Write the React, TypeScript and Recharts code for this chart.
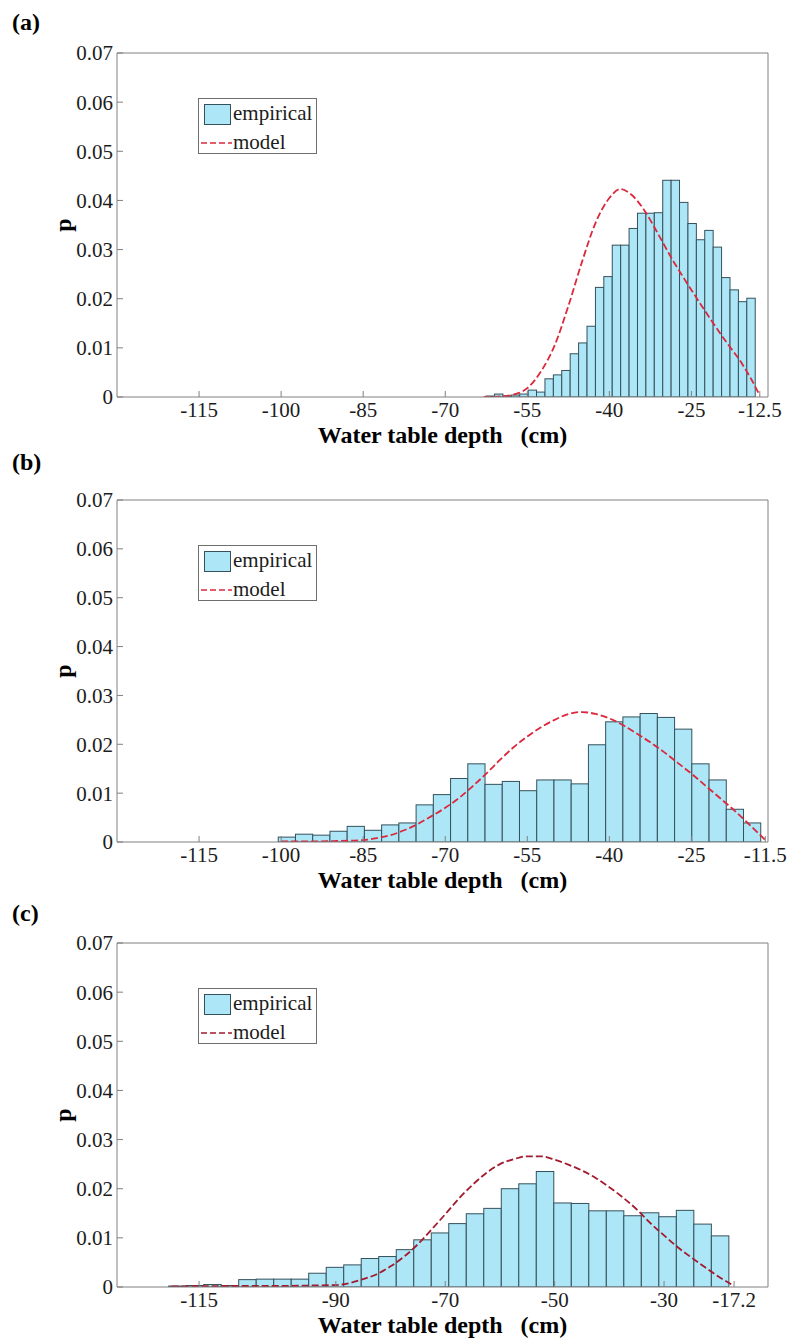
import React from 'react';
import { ComposedChart, Bar, Line, XAxis, YAxis, Legend } from 'recharts';

// ---------- shared axis values ----------
const X_DOMAIN: [number, number] = [-130, -11];
const Y_DOMAIN: [number, number] = [0, 0.07];
const yMajorTicks = [0, 0.01, 0.02, 0.03, 0.04, 0.05, 0.06, 0.07];
const yMinorTicks = [0.005, 0.015, 0.025, 0.035, 0.045, 0.055, 0.065];
const yAllTicks = [0, 0.005, 0.01, 0.015, 0.02, 0.025, 0.03, 0.035, 0.04, 0.045, 0.05, 0.055, 0.06, 0.065, 0.07];

// ---------- panel (a) ----------
const xTicksA = [-115, -100, -85, -70, -55, -40, -25, -12.5];
const binWidthA = 1.5375;
const binCentersA = [
  -61.73, -60.19, -58.66, -57.12, -55.58, -54.04, -52.51, -50.97, -49.43, -47.9, -46.36,
  -44.82, -43.28, -41.74, -40.21, -38.67, -37.13, -35.59, -34.06, -32.52, -30.98, -29.44,
  -27.91, -26.37, -24.83, -23.29, -21.76, -20.22, -18.68, -17.14, -15.61, -14.07,
];
const empiricalA = [
  0.0002, 0.0006, 0.0002, 0.0004, 0.0006, 0.0014, 0.001, 0.0037, 0.0045, 0.0054, 0.0088,
  0.011, 0.0144, 0.0223, 0.0245, 0.0309, 0.0309, 0.0343, 0.0374, 0.0374, 0.0375, 0.0441,
  0.0441, 0.0396, 0.0353, 0.032, 0.0339, 0.0305, 0.0243, 0.0218, 0.0194, 0.0201,
];
const modelDepthA = [-63, -60, -57.5, -55, -52.5, -50, -47.5, -45, -42.5, -40, -38, -36, -33.5, -31, -28.5, -26, -23.5, -21, -18.5, -16, -14, -12.5];
const modelA = [0, 0.0001, 0.0005, 0.0018, 0.0052, 0.0105, 0.0185, 0.0275, 0.0355, 0.0405, 0.0423, 0.0412, 0.0378, 0.033, 0.028, 0.0235, 0.0192, 0.015, 0.011, 0.0072, 0.0035, 0.0003];

// ---------- panel (b) ----------
const xTicksB = [-115, -100, -85, -70, -55, -40, -25, -11.5];
const binWidthB = 3.15;
const binCentersB = [
  -98.93, -95.78, -92.63, -89.48, -86.33, -83.18, -80.03, -76.88, -73.73, -70.58, -67.43,
  -64.28, -61.13, -57.98, -54.83, -51.68, -48.53, -45.38, -42.23, -39.08, -35.93, -32.78,
  -29.63, -26.48, -23.33, -20.18, -17.03, -13.88,
];
const empiricalB = [
  0.001, 0.0016, 0.0014, 0.0022, 0.0032, 0.0024, 0.0035, 0.0039, 0.0076, 0.0097, 0.013,
  0.016, 0.0118, 0.0124, 0.0105, 0.0127, 0.0127, 0.0119, 0.0199, 0.0246, 0.0256, 0.0263,
  0.0255, 0.0231, 0.016, 0.0127, 0.0067, 0.0039,
];
const modelDepthB = [-100, -95, -90, -85, -82.5, -80, -77.5, -75, -72.5, -70, -67.5, -65, -62.5, -60, -57.5, -55, -52.5, -50, -47.5, -45, -42.5, -40, -37.5, -35, -32.5, -30, -27.5, -25, -22.5, -20, -17.5, -15, -12.5, -11.5];
const modelB = [0.0001, 0.0001, 0.0002, 0.0004, 0.0008, 0.0014, 0.0024, 0.0037, 0.0053, 0.007, 0.009, 0.0114, 0.014, 0.0168, 0.0194, 0.0216, 0.0235, 0.025, 0.0262, 0.0266, 0.0262, 0.0253, 0.0239, 0.0222, 0.0204, 0.0184, 0.0162, 0.014, 0.0116, 0.0092, 0.0068, 0.0042, 0.0015, 0.0004];

// ---------- panel (c) ----------
const xTicksC = [-115, -90, -70, -50, -30, -17.2];
const binWidthC = 3.2;
const binCentersC = [
  -119.0, -115.8, -112.6, -109.4, -106.2, -103.0, -99.8, -96.6, -93.4, -90.2, -87.0,
  -83.8, -80.6, -77.4, -74.2, -71.0, -67.8, -64.6, -61.4, -58.2, -55.0, -51.8,
  -48.6, -45.4, -42.2, -39.0, -35.8, -32.6, -29.4, -26.2, -23.0, -19.8,
];
const empiricalC = [
  0.0002, 0.0003, 0.0005, 0.0003, 0.0015, 0.0016, 0.0016, 0.0016, 0.0028, 0.004, 0.0045,
  0.0058, 0.0062, 0.0076, 0.0096, 0.011, 0.0129, 0.0149, 0.016, 0.02, 0.021, 0.0235,
  0.0171, 0.017, 0.0155, 0.0155, 0.0145, 0.0151, 0.0143, 0.0156, 0.0128, 0.0104,
];
const modelDepthC = [-120, -110, -100, -95, -90, -87.5, -85, -82.5, -80, -77.5, -75, -72.5, -70, -67.5, -65, -62.5, -60, -57.5, -55, -52.5, -50, -47.5, -45, -42.5, -40, -37.5, -35, -32.5, -30, -27.5, -25, -22.5, -20, -17.5];
const modelC = [0.0001, 0.0002, 0.0002, 0.0003, 0.0004, 0.0008, 0.0016, 0.0026, 0.0042, 0.0062, 0.0087, 0.0117, 0.0148, 0.018, 0.0208, 0.0232, 0.025, 0.026, 0.0266, 0.0266, 0.0259, 0.0249, 0.0237, 0.0222, 0.0203, 0.0182, 0.0158, 0.013, 0.0105, 0.0081, 0.006, 0.004, 0.0021, 0.0004];

// ---------- styling / layout ----------
const FONT = '"Liberation Serif", "Times New Roman", serif';
const BAR_FILL = '#ade6f7';
const BAR_STROKE = '#35515b';
const AXIS_COLOR = '#808080';
const TEXT_COLOR = '#1c1c1c';
const CHART_W = 787;
const PLOT_LEFT = 117;
const PLOT_RIGHT = 768;
const MARGIN_TOP = 53;
const AXIS_H = 30;
const PX_PER_UNIT = (PLOT_RIGHT - PLOT_LEFT) / (X_DOMAIN[1] - X_DOMAIN[0]);

const fmtY = (v: number) => (v === 0 ? '0' : v.toFixed(2));

const makeBarShape = (widthPx: number) => (props: any) => {
  const { x, y, width, height } = props;
  if (![x, y, width, height].every((n) => typeof n === 'number' && isFinite(n))) return <g />;
  const center = x + width / 2;
  return (
    <rect
      x={center - widthPx / 2}
      y={y}
      width={widthPx}
      height={Math.max(height, 0)}
      fill={BAR_FILL}
      stroke={BAR_STROKE}
      strokeWidth={1}
    />
  );
};

const LegendBox = ({ payload, lineColor }: any) => {
  const items = payload || [];
  const emp = items.find((e: any) => e.dataKey === 'p');
  const mod = items.find((e: any) => e.dataKey === 'm');
  return (
    <div
      style={{
        width: 119,
        height: 56,
        boxSizing: 'border-box',
        border: '1px solid #6f6f6f',
        background: '#fff',
        position: 'relative',
        fontFamily: FONT,
        fontSize: 21,
        color: TEXT_COLOR,
      }}
    >
      <div
        style={{
          position: 'absolute',
          left: 5,
          top: 5,
          width: 27,
          height: 21,
          boxSizing: 'border-box',
          background: BAR_FILL,
          border: `1.5px solid ${BAR_STROKE}`,
        }}
      />
      <div style={{ position: 'absolute', left: 34, top: 2, lineHeight: '24px', whiteSpace: 'nowrap' }}>
        {emp ? emp.value : 'empirical'}
      </div>
      <svg style={{ position: 'absolute', left: 2, top: 41 }} width={31} height={6}>
        <line x1={0} y1={3} x2={31} y2={3} stroke={lineColor} strokeWidth={1.5} strokeDasharray="6 3" />
      </svg>
      <div style={{ position: 'absolute', left: 34, top: 31, lineHeight: '24px', whiteSpace: 'nowrap' }}>
        {mod ? mod.value : 'model'}
      </div>
    </div>
  );
};

type PanelProps = {
  label: string;
  top: number;
  plotH: number;
  labelY: number;
  binCenters: number[];
  empirical: number[];
  binWidth: number;
  modelDepth: number[];
  model: number[];
  xTicks: number[];
  lineColor: string;
};

function Panel(p: PanelProps) {
  const histData = p.binCenters.map((x, i) => ({ x, p: p.empirical[i] }));
  const modelData = p.modelDepth.map((x, i) => ({ x, m: p.model[i] }));
  const chartH = MARGIN_TOP + p.plotH + AXIS_H;
  const barPx = p.binWidth * PX_PER_UNIT;
  const tickStyle = { fontSize: 21, fontFamily: FONT, fill: TEXT_COLOR };
  return (
    <div style={{ position: 'absolute', left: 0, top: p.top, width: CHART_W, height: chartH + 24 }}>
      <div
        style={{
          position: 'absolute',
          left: 12,
          top: p.labelY - 14,
          fontFamily: FONT,
          fontWeight: 'bold',
          fontSize: 24,
          lineHeight: '28px',
          color: '#000',
        }}
      >
        {p.label}
      </div>
      <div
        style={{
          position: 'absolute',
          left: 50,
          top: MARGIN_TOP + p.plotH / 2 - 15,
          width: 26,
          height: 30,
          display: 'flex',
          alignItems: 'center',
          justifyContent: 'center',
          transform: 'rotate(-90deg)',
          fontFamily: FONT,
          fontWeight: 'bold',
          fontSize: 24,
          color: '#000',
        }}
      >
        p
      </div>
      <div
        style={{
          position: 'absolute',
          left: PLOT_LEFT,
          width: PLOT_RIGHT - PLOT_LEFT,
          top: MARGIN_TOP + p.plotH + 26,
          textAlign: 'center',
          fontFamily: FONT,
          fontWeight: 'bold',
          fontSize: 24,
          lineHeight: '24px',
          whiteSpace: 'pre',
          color: '#000',
        }}
      >
        {'Water table depth   (cm)'}
      </div>
      <ComposedChart
        width={CHART_W}
        height={chartH}
        data={histData}
        margin={{ top: MARGIN_TOP, right: CHART_W - PLOT_RIGHT, bottom: 0, left: 0 }}
        barCategoryGap={0}
        barGap={0}
      >
        {/* labelled bottom axis */}
        <XAxis
          xAxisId="main"
          dataKey="x"
          type="number"
          domain={X_DOMAIN}
          allowDataOverflow
          ticks={p.xTicks}
          interval={0}
          height={AXIS_H}
          tick={tickStyle}
          tickSize={-6}
          tickMargin={11}
          tickLine={{ stroke: AXIS_COLOR }}
          axisLine={{ stroke: AXIS_COLOR }}
        />
        {/* hidden axis that positions the histogram bars */}
        <XAxis xAxisId="bars" dataKey="x" type="number" domain={X_DOMAIN} allowDataOverflow hide height={0} />
        {/* top box edge with inward ticks */}
        <XAxis
          xAxisId="top"
          orientation="top"
          mirror
          type="number"
          dataKey="x"
          domain={X_DOMAIN}
          allowDataOverflow
          ticks={p.xTicks}
          interval={0}
          height={1}
          tick={false}
          tickSize={6}
          tickLine={{ stroke: AXIS_COLOR }}
          axisLine={{ stroke: AXIS_COLOR }}
        />
        {/* labelled left axis */}
        <YAxis
          yAxisId={0}
          type="number"
          domain={Y_DOMAIN}
          allowDataOverflow
          ticks={yMajorTicks}
          interval={0}
          width={PLOT_LEFT}
          tick={tickStyle}
          tickFormatter={fmtY}
          tickSize={-6}
          tickMargin={10}
          tickLine={{ stroke: AXIS_COLOR }}
          axisLine={{ stroke: AXIS_COLOR }}
        />
        {/* left minor ticks */}
        <YAxis
          yAxisId="leftMinor"
          orientation="left"
          mirror
          type="number"
          domain={Y_DOMAIN}
          allowDataOverflow
          ticks={yMinorTicks}
          interval={0}
          width={1}
          tick={false}
          tickSize={3}
          tickLine={{ stroke: AXIS_COLOR }}
          axisLine={false}
        />
        {/* right box edge with inward ticks */}
        <YAxis
          yAxisId="right"
          orientation="right"
          mirror
          type="number"
          domain={Y_DOMAIN}
          allowDataOverflow
          ticks={yAllTicks}
          interval={0}
          width={1}
          tick={false}
          tickSize={5}
          tickLine={{ stroke: AXIS_COLOR }}
          axisLine={{ stroke: AXIS_COLOR }}
        />
        <Bar
          xAxisId="bars"
          yAxisId={0}
          dataKey="p"
          name="empirical"
          shape={makeBarShape(barPx)}
          fill={BAR_FILL}
          stroke={BAR_STROKE}
          isAnimationActive={false}
        />
        <Line
          xAxisId="main"
          yAxisId={0}
          data={modelData}
          dataKey="m"
          name="model"
          type="monotone"
          stroke={p.lineColor}
          strokeWidth={1.8}
          strokeDasharray="7 3"
          dot={false}
          activeDot={false}
          isAnimationActive={false}
        />
        <Legend
          layout="vertical"
          align="center"
          verticalAlign="middle"
          wrapperStyle={{ left: 198, top: 98, width: 119, height: 56 }}
          content={(props: any) => <LegendBox payload={props.payload} lineColor={p.lineColor} />}
        />
      </ComposedChart>
    </div>
  );
}

export default function App() {
  return (
    <div style={{ position: 'absolute', left: 0, top: 0, width: 787, height: 1338, background: '#fff' }}>
      <Panel
        label="(a)"
        top={0}
        plotH={344}
        labelY={22}
        binCenters={binCentersA}
        empirical={empiricalA}
        binWidth={binWidthA}
        modelDepth={modelDepthA}
        model={modelA}
        xTicks={xTicksA}
        lineColor="#dc283c"
      />
      <Panel
        label="(b)"
        top={447}
        plotH={342}
        labelY={15}
        binCenters={binCentersB}
        empirical={empiricalB}
        binWidth={binWidthB}
        modelDepth={modelDepthB}
        model={modelB}
        xTicks={xTicksB}
        lineColor="#dc283c"
      />
      <Panel
        label="(c)"
        top={890}
        plotH={344}
        labelY={23}
        binCenters={binCentersC}
        empirical={empiricalC}
        binWidth={binWidthC}
        modelDepth={modelDepthC}
        model={modelC}
        xTicks={xTicksC}
        lineColor="#a31b2e"
      />
    </div>
  );
}
